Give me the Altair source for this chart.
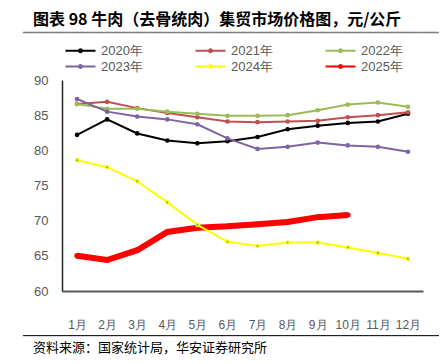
import altair as alt
import pandas as pd

months = ["1月", "2月", "3月", "4月", "5月", "6月", "7月", "8月", "9月", "10月", "11月", "12月"]
years = ["2020年", "2021年", "2022年", "2023年", "2024年", "2025年"]

v2020 = [82.2, 84.4, 82.4, 81.4, 81.0, 81.3, 81.9, 83.0, 83.5, 83.9, 84.1, 85.2]
v2021 = [86.6, 86.9, 86.0, 85.3, 84.7, 84.1, 84.0, 84.1, 84.2, 84.7, 85.0, 85.4]
v2022 = [86.6, 85.9, 85.9, 85.5, 85.2, 84.9, 84.9, 85.0, 85.7, 86.5, 86.8, 86.2]
v2023 = [87.3, 85.5, 84.8, 84.4, 83.7, 81.7, 80.2, 80.5, 81.1, 80.7, 80.5, 79.8]
v2024 = [78.6, 77.6, 75.6, 72.6, 69.4, 67.0, 66.4, 66.9, 66.9, 66.2, 65.4, 64.6]
v2025 = [65.0, 64.4, 65.8, 68.4, 69.0, 69.2, 69.5, 69.8, 70.5, 70.8]
y_ticks = [60, 65, 70, 75, 80, 85, 90]

colors = ["#000000", "#C0504D", "#9BBB59", "#8064A2", "#FFFF00", "#FF0000"]
widths = [2, 2, 2, 2, 2, 6]

title_text = "图表 98 牛肉（去骨统肉）集贸市场价格图，元/公斤"
footer_text = "资料来源：国家统计局，华安证券研究所"

rows = []
for y, vals in zip(years, [v2020, v2021, v2022, v2023, v2024, v2025]):
    for m, v in zip(months, vals):
        rows.append({"month": m, "year": y, "value": v})
df = pd.DataFrame(rows)

FONT = "Liberation Sans"
W, H = 361, 211

x_enc = alt.X("month:O", sort=months, scale=alt.Scale(padding=0.5),
              axis=alt.Axis(title=None, labelAngle=0, ticks=False, labelPadding=28,
                            labelColor="#595959", labelFontSize=12, labelFont=FONT,
                            domainColor="#595959", domainWidth=2))
y_enc = alt.Y("value:Q", scale=alt.Scale(domain=[60, 90], nice=False, zero=False),
              axis=alt.Axis(title=None, values=y_ticks, tickCount=7, ticks=False,
                            grid=False, labelPadding=14, labelColor="#595959",
                            labelFontSize=13, labelFont=FONT, labelOverlap=False,
                            domainColor="#262626", domainWidth=1.5))

legend_symbol = "M-2,0L2,0M-0.2,0A0.2,0.2,0,1,1,0.2,0A0.2,0.2,0,1,1,-0.2,0"
color_enc = alt.Color(
    "year:N", sort=years, scale=alt.Scale(domain=years, range=colors),
    legend=alt.Legend(
        title=None, orient="none", legendX=10, legendY=-38,
        columns=3, columnPadding=48, rowPadding=-2,
        symbolType=legend_symbol, symbolSize=225, symbolStrokeWidth=2,
        labelFontSize=13, labelColor="#595959", labelFont=FONT, labelOffset=12,
        direction="horizontal",
    ),
)

draw_order = ["2020年", "2021年", "2022年", "2023年", "2025年", "2024年"]
layers = []
for yr in draw_order:
    i = years.index(yr)
    layers.append(
        alt.Chart(df).transform_filter(alt.datum.year == yr).mark_line(
            strokeWidth=widths[i],
            point=alt.OverlayMarkDef(filled=True, size=22 if yr != "2025年" else 30),
        ).encode(x=x_enc, y=y_enc, color=color_enc)
    )

dots2024 = alt.Chart(df).transform_filter(alt.datum.year == "2024年").mark_point(
    filled=True, size=4, color="#4BACC6", opacity=1
).encode(x=x_enc, y=y_enc)

one = pd.DataFrame({"k": [0]})

title_mark = alt.Chart(one).mark_text(
    text=title_text, align="left", baseline="middle", fontSize=16, fontWeight="bold",
    font="Noto Sans CJK SC", color="#000000"
).encode(x=alt.value(-29), y=alt.value(-60))

# separator lines drawn as box-drawing text (plain rules outside the plot area did not render)
title_rule = alt.Chart(one).mark_text(
    text="─" * 44, align="left", baseline="middle", fontSize=16,
    font="DejaVu Sans Mono", color="#7f7f7f"
).encode(x=alt.value(-39), y=alt.value(-47.5))

footer_rule = alt.Chart(one).mark_text(
    text="─" * 59, align="left", baseline="middle", fontSize=12,
    font="DejaVu Sans Mono", color="#000000"
).encode(x=alt.value(-39), y=alt.value(255.5))

footer_mark = alt.Chart(one).mark_text(
    text=footer_text, align="left", baseline="middle", fontSize=13,
    font="Noto Sans CJK SC", color="#000000"
).encode(x=alt.value(-29), y=alt.value(268))

chart = alt.layer(*layers, dots2024, title_mark, title_rule, footer_rule, footer_mark).properties(
    width=W, height=H,
    autosize=alt.AutoSizeParams(type="none"),
    padding={"left": 54, "top": 72, "right": 16, "bottom": 65},
).configure_view(stroke=None).configure_axis(grid=False)

chart.save("out.html", embed_options={"renderer": "svg", "actions": False})
